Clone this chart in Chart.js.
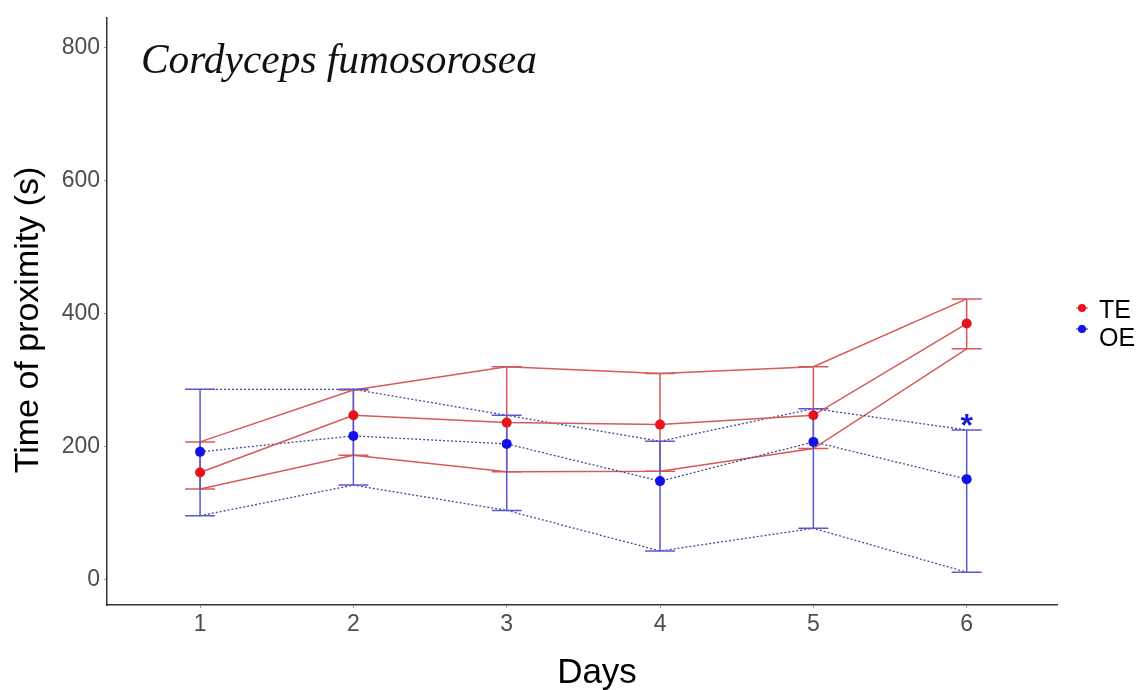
<!DOCTYPE html>
<html>
<head>
<meta charset="utf-8">
<script src="https://cdn.jsdelivr.net/npm/chart.js@4.4.1/dist/chart.umd.min.js"></script>
<style>
html, body { margin: 0; padding: 0; background: #fff; }
#wrap { width: 1142px; height: 690px; position: relative; }
</style>
</head>
<body>
<div id="wrap"><canvas id="chartDays"></canvas></div>
<script>
// values (seconds)
var days = [1, 2, 3, 4, 5, 6];
var yTicks = [0, 200, 400, 600, 800];
var teMean  = [161, 247, 236, 233, 247, 385];
var teUpper = [207, 285, 320, 310, 320, 422];
var teLower = [136, 187, 162, 163, 197, 347];
var oeMean  = [192, 216, 204, 148, 207, 151];
var oeUpper = [286, 286, 247, 208, 257, 225];
var oeLower = [96, 142, 104, 43, 77, 11];
var seriesNames = ['TE', 'OE'];
var signif = ['', '', '', '', '', '*'];
var titleText = 'Cordyceps fumosorosea';
var xTitle = 'Days';
var yTitle = 'Time of proximity (s)';

var redLine = '#d65a5a';
var redDot = '#e8141c';
var blueDot = '#1212e6';
var blueBar = '#5858d0';
var blueDash = '#4a4a92';

function pts(arr) {
  return days.map(function(d, i) { return {x: d, y: arr[i]}; });
}
// vertical bar per day, broken by a null so the days don't join
function bars(lo, hi) {
  var out = [];
  days.forEach(function(d, i) {
    out.push({x: d, y: lo[i]});
    out.push({x: d, y: hi[i]});
    out.push({x: d, y: null});
  });
  return out;
}

function lineSet(data, color, width, dash) {
  return {
    data: data, borderColor: color, borderWidth: width, borderDash: dash || [],
    pointRadius: 0, fill: false, tension: 0, spanGaps: false
  };
}

var datasets = [];
var teM = lineSet(pts(teMean), redLine, 1.5);
teM.pointRadius = 5; teM.pointBackgroundColor = redDot; teM.pointBorderColor = redDot; teM.pointBorderWidth = 0;
teM.label = seriesNames[0];
var oeM = lineSet(pts(oeMean), blueDash, 1.3, [2, 2]);
oeM.pointRadius = 5; oeM.pointBackgroundColor = blueDot; oeM.pointBorderColor = blueDot; oeM.pointBorderWidth = 0;
oeM.label = seriesNames[1];

var oeBars = lineSet(bars(oeLower, oeUpper), blueBar, 1.5);
oeBars.pointStyle = 'line'; oeBars.pointRadius = 15; oeBars.pointBorderColor = blueBar; oeBars.pointBorderWidth = 1.5;
var teBars = lineSet(bars(teLower, teUpper), redLine, 1.5);
teBars.pointStyle = 'line'; teBars.pointRadius = 15; teBars.pointBorderColor = redLine; teBars.pointBorderWidth = 1.5;

datasets.push(teM, oeM, oeBars, teBars,
  lineSet(pts(oeUpper), blueDash, 1.3, [2, 2]),
  lineSet(pts(oeLower), blueDash, 1.3, [2, 2]),
  lineSet(pts(teUpper), redLine, 1.5),
  lineSet(pts(teLower), redLine, 1.5));

var textPlugin = {
  id: 'textPlugin',
  afterDraw: function(chart) {
    var ctx = chart.ctx;
    var xs = chart.scales.x, ys = chart.scales.y;
    ctx.save();
    // species title, serif italic
    ctx.fillStyle = '#111';
    ctx.font = 'italic 48px "Liberation Serif"';
    var fs = 48 * 396 / ctx.measureText(titleText).width;
    ctx.font = 'italic ' + fs.toFixed(1) + 'px "Liberation Serif"';
    ctx.textAlign = 'left';
    ctx.textBaseline = 'alphabetic';
    ctx.fillText(titleText, 141, 73);

    // axis titles
    ctx.fillStyle = '#000';
    ctx.font = '35px "Liberation Sans", Arial, sans-serif';
    ctx.textAlign = 'center';
    ctx.fillText(xTitle, 597, 683);
    ctx.save();
    ctx.translate(38, 320);
    ctx.rotate(-Math.PI / 2);
    ctx.font = '34px "Liberation Sans", Arial, sans-serif';
    ctx.fillText(yTitle, 0, 0);
    ctx.restore();

    // significance marks
    ctx.fillStyle = '#1a1ad0';
    ctx.font = 'bold 32px "Liberation Sans", Arial, sans-serif';
    signif.forEach(function(s, i) {
      if (!s) return;
      ctx.fillText(s, xs.getPixelForValue(days[i]), ys.getPixelForValue(oeUpper[i]) + 6);
    });

    // legend
    var leg = [[redDot, 308, 318], [blueDot, 329, 346]];
    ctx.textAlign = 'left';
    ctx.font = '25px "Liberation Sans", Arial, sans-serif';
    leg.forEach(function(l, i) {
      ctx.strokeStyle = l[0];
      ctx.lineWidth = 1;
      ctx.beginPath(); ctx.moveTo(1076, l[1]); ctx.lineTo(1088, l[1]); ctx.stroke();
      ctx.fillStyle = l[0];
      ctx.beginPath(); ctx.arc(1082, l[1], 4, 0, Math.PI * 2); ctx.fill();
      ctx.fillStyle = '#000';
      ctx.fillText(seriesNames[i], 1099, l[2]);
    });
    ctx.restore();
  }
};

var ctx = document.getElementById('chartDays').getContext('2d');
var tickFont = {family: '"Liberation Sans", Arial, sans-serif', size: 23};
var myChart = new Chart(ctx, {
  type: 'line',
  data: {datasets: datasets},
  options: {
    animation: false,
    responsive: true,
    maintainAspectRatio: false,
    events: [],
    layout: {autoPadding: false, padding: {top: 8, right: 85, left: 0, bottom: 0}},
    plugins: {legend: {display: false}, tooltip: {enabled: false}, title: {display: false}},
    scales: {
      x: {
        type: 'linear', min: 0.393, max: 6.589,
        afterBuildTicks: function(scale) { scale.ticks = days.map(function(v) { return {value: v}; }); },
        afterFit: function(scale) { scale.height = 85; },
        grid: {display: true, drawOnChartArea: false, drawTicks: true, tickLength: 3, color: '#999'},
        border: {display: true, color: '#333', width: 1.5},
        ticks: {color: '#4d4d4d', font: tickFont, padding: 3, maxRotation: 0}
      },
      y: {
        type: 'linear', min: -38.3, max: 844.8,
        afterBuildTicks: function(scale) { scale.ticks = yTicks.map(function(v) { return {value: v}; }); },
        afterFit: function(scale) { scale.width = 107; },
        grid: {display: true, drawOnChartArea: false, drawTicks: true, tickLength: 3, color: '#999'},
        border: {display: true, color: '#333', width: 1.5},
        ticks: {color: '#4d4d4d', font: tickFont, padding: 4}
      }
    }
  },
  plugins: [textPlugin]
});
</script>
</body>
</html>
